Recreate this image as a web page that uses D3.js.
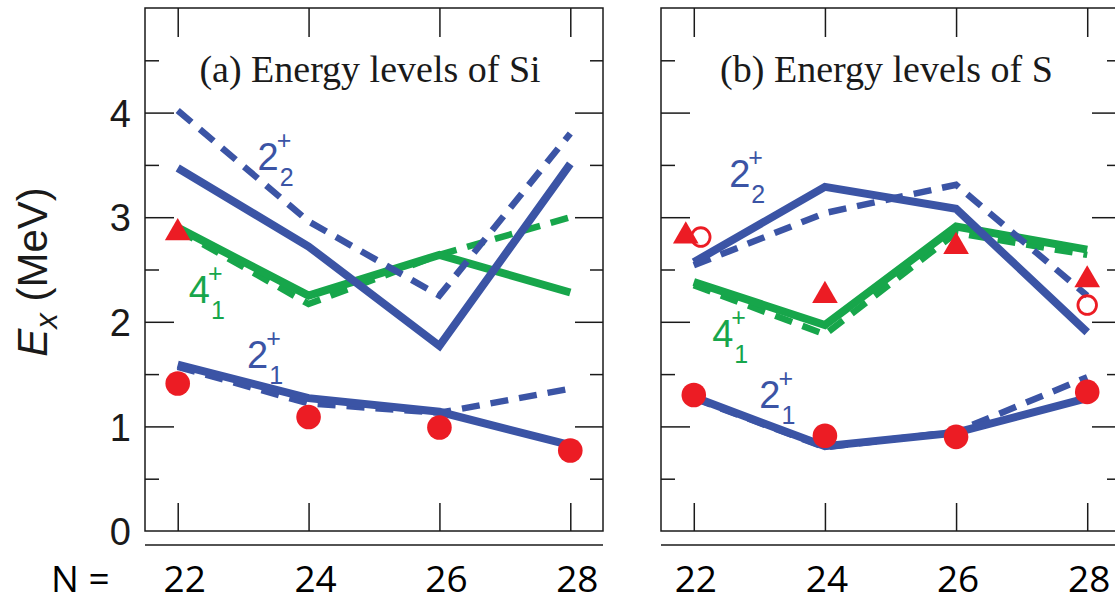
<!DOCTYPE html>
<html>
<head>
<meta charset="utf-8">
<script src="https://cdn.jsdelivr.net/npm/d3@7"></script>
<style>
  html, body { margin: 0; padding: 0; background: #ffffff; }
  svg { display: block; }
</style>
</head>
<body>
<svg id="chart" width="1115" height="603"></svg>
<script>
// ---- axis values ----
const neutronNumbers = [22, 24, 26, 28];
const nTickLabels = ["22", "24", "26", "28"];
const energyTicks = [0, 1, 2, 3, 4];
const energyMajorInner = [1, 2, 3, 4];
const energyMinorTicks = [0.5, 1.5, 2.5, 3.5, 4.5];

// ---- Si isotopes (panel a), excitation energies in MeV ----
const siTwoOneSolid   = [1.59, 1.27, 1.14, 0.82];
const siTwoOneDashed  = [1.57, 1.22, 1.13, 1.36];
const siTwoTwoSolid   = [3.47, 2.72, 1.77, 3.51];
const siTwoTwoDashed  = [4.02, 2.96, 2.25, 3.80];
const siFourOneSolid  = [2.90, 2.25, 2.64, 2.28];
const siFourOneDashed = [2.88, 2.17, 2.64, 3.00];
const siExpTwoOne     = [1.41, 1.09, 0.99, 0.77];
const siExpFourOneN   = [22];
const siExpFourOne    = [2.85];

// ---- S isotopes (panel b), excitation energies in MeV ----
const sTwoOneSolid    = [1.28, 0.81, 0.94, 1.27];
const sTwoOneDashed   = [1.27, 0.80, 0.95, 1.47];
const sTwoTwoSolid    = [2.57, 3.29, 3.08, 1.90];
const sTwoTwoDashed   = [2.54, 3.04, 3.31, 2.25];
const sFourOneSolid   = [2.38, 1.97, 2.91, 2.69];
const sFourOneDashed  = [2.35, 1.88, 2.85, 2.64];
const sExpTwoOne      = [1.30, 0.91, 0.90, 1.33];
const sExpFourOne     = [2.82, 2.25, 2.72, 2.40];
const sExpOpenN       = [22, 28];
const sExpOpen        = [2.81, 2.16];

// ---- colours ----
const BLUE = "#3b54a5";
const GREEN = "#17a64b";
const RED = "#ec1c24";
const INK = "#1a1a1a";

const zip = (ns, es) => ns.map((n, i) => ({ n: n, e: es[i] }));

const panels = [
  {
    title: "(a) Energy levels of Si",
    left: 145, right: 603, showEnergyLabels: true, nLabelShift: 7,
    green: [siFourOneDashed, siFourOneSolid],
    blue: [siTwoTwoDashed, siTwoTwoSolid, siTwoOneDashed, siTwoOneSolid],
    circles: zip(neutronNumbers, siExpTwoOne),
    triangles: zip(siExpFourOneN, siExpFourOne).map(d => ({ ...d, dx: 0 })),
    open: [],
    labels: [
      { n: 23.22, e: 3.45, main: "2", sub: "2", color: BLUE },
      { n: 22.17, e: 2.18, main: "4", sub: "1", color: GREEN },
      { n: 23.06, e: 1.56, main: "2", sub: "1", color: BLUE }
    ]
  },
  {
    title: "(b) Energy levels of S",
    left: 661, right: 1120, showEnergyLabels: false, nLabelShift: 2,
    green: [sFourOneDashed, sFourOneSolid],
    blue: [sTwoTwoDashed, sTwoTwoSolid, sTwoOneDashed, sTwoOneSolid],
    circles: zip(neutronNumbers, sExpTwoOne),
    triangles: zip(neutronNumbers, sExpFourOne).map((d, i) => ({ ...d, dx: i === 0 ? -8 : 0 })),
    open: zip(sExpOpenN, sExpOpen).map((d, i) => ({ ...d, dx: i === 0 ? 7 : 0 })),
    labels: [
      { n: 22.54, e: 3.29, main: "2", sub: "2", color: BLUE },
      { n: 22.28, e: 1.76, main: "4", sub: "1", color: GREEN },
      { n: 23.00, e: 1.18, main: "2", sub: "1", color: BLUE }
    ]
  }
];

const svg = d3.select("#chart");
const TOP = 8, BOTTOM = 531;
const y = d3.scaleLinear().domain([0, 5]).range([BOTTOM, TOP]);

function styleAxis(sel) {
  sel.select(".domain").remove();
  sel.selectAll(".tick line").attr("stroke", INK).attr("stroke-width", 1.5);
}

function drawPanel(p) {
  const x = d3.scaleLinear().domain([21.5, 28.5]).range([p.left, p.right]);
  const g = svg.append("g");

  // frame
  g.append("rect")
    .attr("x", p.left).attr("y", TOP)
    .attr("width", p.right - p.left).attr("height", BOTTOM - TOP)
    .attr("fill", "none").attr("stroke", INK).attr("stroke-width", 1.5);

  // second rule below the frame
  g.append("line")
    .attr("x1", p.left).attr("x2", p.right)
    .attr("y1", 545).attr("y2", 545)
    .attr("stroke", INK).attr("stroke-width", 1.5);

  // inward ticks on all four sides
  g.append("g").attr("transform", `translate(${p.left},0)`)
    .call(d3.axisLeft(y).tickValues(energyMajorInner).tickSize(-29).tickFormat(""))
    .call(styleAxis);
  g.append("g").attr("transform", `translate(${p.left},0)`)
    .call(d3.axisLeft(y).tickValues(energyMinorTicks).tickSize(-14).tickFormat(""))
    .call(styleAxis);
  g.append("g").attr("transform", `translate(${p.right},0)`)
    .call(d3.axisRight(y).tickValues(energyMajorInner).tickSize(-28).tickFormat(""))
    .call(styleAxis);
  g.append("g").attr("transform", `translate(${p.right},0)`)
    .call(d3.axisRight(y).tickValues(energyMinorTicks).tickSize(-13).tickFormat(""))
    .call(styleAxis);
  g.append("g").attr("transform", `translate(0,${TOP})`)
    .call(d3.axisTop(x).tickValues(neutronNumbers).tickSize(-29).tickFormat(""))
    .call(styleAxis);
  g.append("g").attr("transform", `translate(0,${BOTTOM})`)
    .call(d3.axisBottom(x).tickValues(neutronNumbers).tickSize(-28).tickFormat(""))
    .call(styleAxis);

  if (p.showEnergyLabels) {
    const ax = g.append("g").attr("transform", `translate(${p.left},0)`)
      .call(d3.axisLeft(y).tickValues(energyTicks).tickSize(0).tickPadding(14).tickFormat(d3.format("d")));
    ax.select(".domain").remove();
    ax.selectAll("text")
      .attr("font-family", "'Liberation Sans', Arial, sans-serif")
      .attr("font-size", 38).attr("fill", INK).attr("dy", "0.36em");
  }

  // panel title
  g.append("text")
    .attr("x", (p.left + p.right) / 2 - 4).attr("y", 82)
    .attr("text-anchor", "middle")
    .attr("font-family", "'Liberation Serif', 'Times New Roman', serif")
    .attr("font-size", 38).attr("fill", INK)
    .text(p.title);

  const line = d3.line().x(d => x(d.n)).y(d => y(d.e));
  const drawSeries = (vals, color, dashed) => {
    g.append("path")
      .datum(zip(neutronNumbers, vals))
      .attr("d", line)
      .attr("fill", "none")
      .attr("stroke", color)
      .attr("stroke-width", dashed ? 6.5 : 8)
      .attr("stroke-dasharray", dashed ? "18,11" : null)
      .attr("stroke-linejoin", "miter");
  };
  drawSeries(p.green[0], GREEN, true);
  drawSeries(p.green[1], GREEN, false);
  drawSeries(p.blue[0], BLUE, true);
  drawSeries(p.blue[1], BLUE, false);
  drawSeries(p.blue[2], BLUE, true);
  drawSeries(p.blue[3], BLUE, false);

  // measured levels
  const tri = d3.symbol().type(d3.symbolTriangle).size(285);
  g.selectAll(null).data(p.triangles).join("path")
    .attr("d", tri)
    .attr("transform", d => `translate(${x(d.n) + d.dx},${y(d.e)})`)
    .attr("fill", RED);
  g.selectAll(null).data(p.circles).join("circle")
    .attr("cx", d => x(d.n)).attr("cy", d => y(d.e))
    .attr("r", 12.3).attr("fill", RED);
  g.selectAll(null).data(p.open).join("circle")
    .attr("cx", d => x(d.n) + d.dx).attr("cy", d => y(d.e))
    .attr("r", 9.3).attr("fill", "none").attr("stroke", RED).attr("stroke-width", 2.8);

  // level labels such as 2⁺₂
  p.labels.forEach(l => {
    const x0 = x(l.n), y0 = y(l.e);
    const font = "'Liberation Sans', Arial, sans-serif";
    const t = g.append("text")
      .attr("x", x0).attr("y", y0)
      .attr("font-family", font).attr("font-size", 38).attr("fill", l.color)
      .text(l.main);
    const w = t.node().getComputedTextLength();
    g.append("text")
      .attr("x", x0 + w - 2).attr("y", y0 - 21)
      .attr("font-family", font).attr("font-size", 25).attr("fill", l.color)
      .text("+");
    g.append("text")
      .attr("x", x0 + w + 1).attr("y", y0 + 16)
      .attr("font-family", font).attr("font-size", 25).attr("fill", l.color)
      .text(l.sub);
  });

  // neutron number labels under the panel
  g.selectAll(null).data(neutronNumbers).join("text")
    .attr("x", d => x(d) + p.nLabelShift).attr("y", 592)
    .attr("text-anchor", "middle")
    .attr("font-family", "'Open Sans', 'Noto Sans', sans-serif")
    .attr("font-size", 37).attr("fill", "#000")
    .text((d, i) => nTickLabels[i]);
}

panels.forEach(drawPanel);

// "N =" lead-in for the neutron numbers
svg.append("text")
  .attr("x", 51).attr("y", 592)
  .attr("font-family", "'Open Sans', 'Noto Sans', sans-serif")
  .attr("font-size", 37).attr("fill", "#000")
  .text("N =");

// energy axis title
const yTitle = svg.append("text")
  .attr("transform", "translate(47,272) rotate(-90)")
  .attr("text-anchor", "middle")
  .attr("font-family", "'Liberation Sans', Arial, sans-serif")
  .attr("font-size", 42).attr("fill", INK);
yTitle.append("tspan").attr("font-style", "italic").text("E");
yTitle.append("tspan").attr("font-style", "italic").attr("font-size", 31).attr("dy", 10).text("x");
yTitle.append("tspan").attr("dy", -10).text(" (MeV)");
</script>
</body>
</html>
